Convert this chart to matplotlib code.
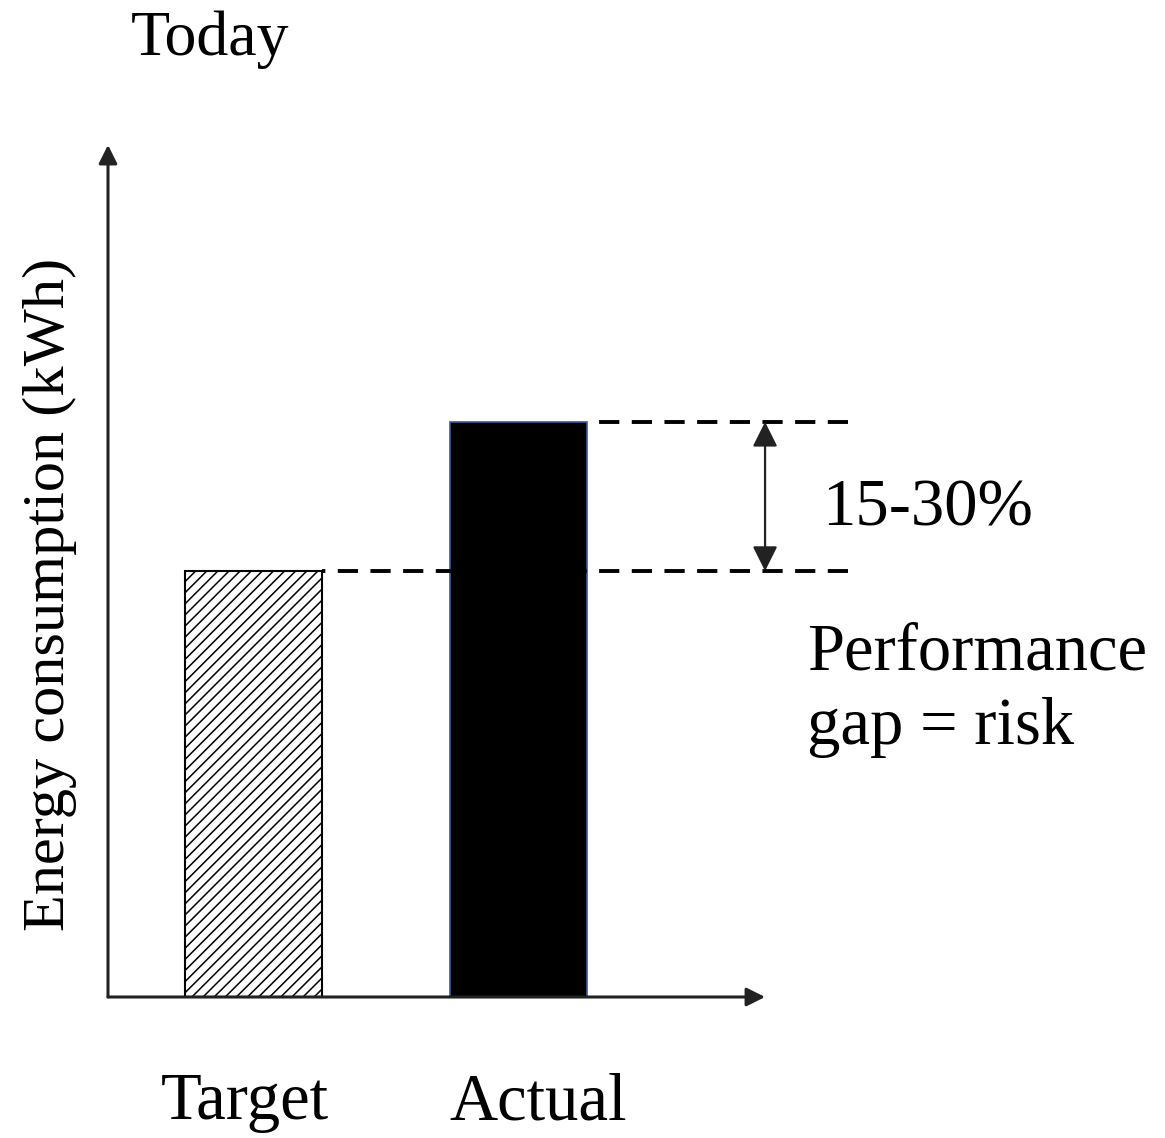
import matplotlib.pyplot as plt

categories = ["Target", "Actual"]
values = [50.0, 67.5]
positions = [0.0, 1.0]
gap_label = "15-30%"
note_label = "Performance\ngap = risk"

FONT = ["Liberation Serif", "DejaVu Serif"]
plt.rcParams['hatch.linewidth'] = 1.1
plt.rcParams['hatch.color'] = "#333333"

fig = plt.figure(figsize=(11.65, 11.38), dpi=100)
ax = fig.add_axes([0.0927, 0.1239, 0.564, 0.7487])
ax.set_xlim(-0.549, 1.93)
ax.set_ylim(0, 100)

ax.bar(positions[0], values[0], width=0.517, color="white",
       edgecolor="black", linewidth=1.5, hatch="///")
ax.bar(positions[1], values[1], width=0.517, color="black",
       edgecolor="#3b5a9a", linewidth=1.2)

for s in ax.spines.values():
    s.set_visible(False)
ax.set_xticks([])
ax.set_yticks([])

# axis arrows
arrow_kw = dict(arrowstyle="-|>", color="#222222", lw=2.2, mutation_scale=28,
                shrinkA=0, shrinkB=0)
ax.annotate("", xy=(0, 1.0), xytext=(0, 0), xycoords="axes fraction",
            arrowprops=arrow_kw, annotation_clip=False)
ax.annotate("", xy=(1.0, 0), xytext=(0, 0), xycoords="axes fraction",
            arrowprops=arrow_kw, annotation_clip=False)

# dashed reference lines (drawn right to left so both end on a dash)
x_end = 2.243
half = 0.517 / 2
for p, v in zip(positions, values):
    ax.plot([x_end, p + half], [v, v], color="black", lw=2.8,
            linestyle=(0, (5.2, 3.2)), clip_on=False)

# double arrow for the gap
ax.annotate("", xy=(1.93, values[1]), xytext=(1.93, values[0]),
            arrowprops=dict(arrowstyle="<|-|>", color="#222222", lw=1.6,
                            mutation_scale=38, shrinkA=0, shrinkB=0),
            annotation_clip=False)

ax.text(2.145, (values[0] + values[1]) / 2 - 1.5, gap_label, fontsize=48,
        ha="left", va="center", family=FONT)
ax.text(2.09, 36.0, note_label, fontsize=48, ha="left", va="center",
        linespacing=1.3, family=FONT)

# category labels below the bars (slightly off-centre as in the original)
label_shift = [-6, 14]
for p, cat, dx in zip(positions, categories, label_shift):
    ax.annotate(cat, xy=(p, 0), xycoords=("data", "axes fraction"),
                xytext=(dx, -54), textcoords="offset points",
                ha="center", va="top", fontsize=48, family=FONT,
                annotation_clip=False)

fig.text(50 / 1165, 1 - 594 / 1138, "Energy consumption (kWh)", fontsize=43.5,
         rotation=90, ha="center", va="center", family=FONT)
fig.text(210 / 1165, 1 - 40 / 1138, "Today", fontsize=46, ha="center",
         va="center", family=FONT)

fig.savefig("out.png", dpi=100)
